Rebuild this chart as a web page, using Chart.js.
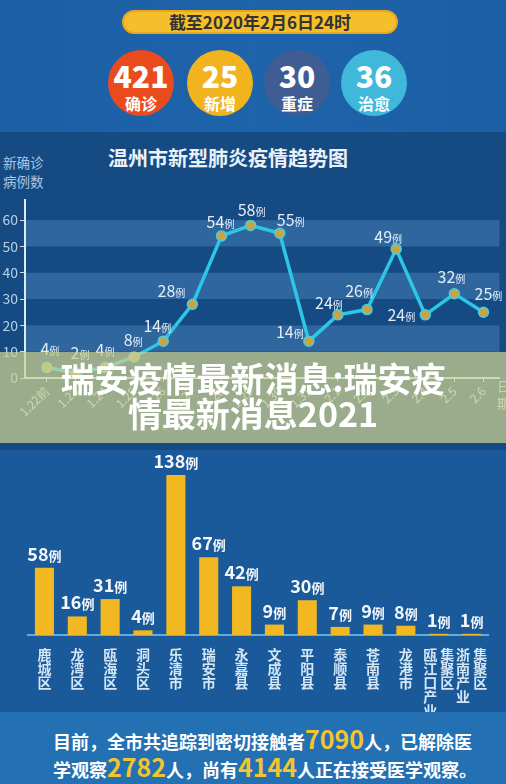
<!DOCTYPE html>
<html>
<head>
<meta charset="utf-8">
<script src="https://cdn.jsdelivr.net/npm/chart.js@4.4.0/dist/chart.umd.min.js"></script>
<style>
  body { margin: 0; width: 506px; height: 784px; overflow: hidden; font-family: "Noto Sans CJK SC", sans-serif; }
  #page { position: relative; width: 506px; height: 784px; background: #1a5a9a; overflow: hidden; }
  .abs { position: absolute; }
  #head { left: 0; top: 0; width: 506px; height: 132px; background: linear-gradient(90deg, #1c5ea4, #1e64ab 50%, #1c5ea4); }
  #trendBg { left: 0; top: 132px; width: 506px; height: 318px; background: #164a82; }
  #pill { left: 122px; top: 10px; width: 272px; height: 20px; border: 2px solid #e9a51c; border-radius: 12px; background: #f5be2b;
          color: #333; font-weight: bold; font-size: 17px; line-height: 20px; text-align: center; }
  .dot { width: 66px; height: 66px; border-radius: 50%; top: 50px; color: #fff; text-align: center; font-weight: bold; }
  .dot b { display: block; font-size: 30px; line-height: 30px; margin-top: 10px; }
  .dot span { display: block; font-size: 16px; line-height: 18px; margin-top: 4px; }
  #title { left: 88px; top: 146px; width: 280px; text-align: center; color: #e9f1f9; font-weight: bold; font-size: 20px; line-height: 24px; }
  #ytitle { left: 3px; top: 153px; color: #a9c6e2; font-size: 13.5px; line-height: 19px; }
  #xtitle { left: 497px; top: 377px; color: #cfe0ee; font-size: 13px; line-height: 17px; }
  #mask { left: 0; top: 352px; width: 506px; height: 91px; background: rgba(206,211,145,0.72); color: #fff; font-weight: bold;
          font-size: 34px; line-height: 35px; text-align: center; padding-top: 8px; box-sizing: border-box; }
  #foot { left: 0; top: 712px; width: 506px; height: 72px; background: #2371b3; color: #fff; font-weight: bold; font-size: 18px; }
  #foot div { position: absolute; left: 53px; white-space: nowrap; }
  #foot em { font-style: normal; color: #f4c430; font-size: 25px; }
</style>
</head>
<body>
<div id="page">
  <div class="abs" id="head"></div>
  <div class="abs" id="trendBg"></div>
  <div class="abs" id="pill">截至2020年2月6日24时</div>
  <div class="abs dot" style="left:108px;background:#e94b1f"><b>421</b><span>确诊</span></div>
  <div class="abs dot" style="left:187px;background:#f2b41e"><b>25</b><span>新增</span></div>
  <div class="abs dot" style="left:264px;background:#3f5d92"><b>30</b><span>重症</span></div>
  <div class="abs dot" style="left:341px;background:#3fb8da"><b>36</b><span>治愈</span></div>
  <div class="abs" id="title">温州市新型肺炎疫情趋势图</div>
  <div class="abs" id="ytitle">新确诊<br>病例数</div>
  <canvas class="abs" id="trend" width="506" height="230" style="left:0;top:190px"></canvas>
  <div class="abs" id="xtitle">日<br>期</div>
  <canvas class="abs" id="bars" width="506" height="262" style="left:0;top:450px"></canvas>
  <div class="abs" id="mask">瑞安疫情最新消息:瑞安疫<br>情最新消息2021</div>
  <div class="abs" id="foot">
    <div style="top:8px">目前，全市共追踪到密切接触者<em>7090</em>人，已解除医</div>
    <div style="top:36px">学观察<em>2782</em>人，尚有<em>4144</em>人正在接受医学观察。</div>
  </div>
</div>
<script>
const dayLabels = ['1.22前', '1.23', '1.24', '1.25', '1.26', '1.27', '1.28', '1.29', '1.30', '1.31', '2.1', '2.2', '2.3', '2.4', '2.5', '2.6'];
const newCases = [4, 2, 4, 8, 14, 28, 54, 58, 55, 14, 24, 26, 49, 24, 32, 25];
const yTicks = [0, 10, 20, 30, 40, 50, 60];

const districtLabels = [
  ['鹿', '城', '区'], ['龙', '湾', '区'], ['瓯', '海', '区'], ['洞', '头', '区'],
  ['乐', '清', '市'], ['瑞', '安', '市'], ['永', '嘉', '县'], ['文', '成', '县'],
  ['平', '阳', '县'], ['泰', '顺', '县'], ['苍', '南', '县'], ['龙', '港', '市'],
  ['瓯 集', '江 聚', '口 区', '产 　', '业 　'], ['浙 集', '南 聚', '产 区', '业 　']
];
const districtCases = [58, 16, 31, 4, 138, 67, 42, 9, 30, 7, 9, 8, 1, 1];

const FONT = '"Noto Sans CJK SC", sans-serif';

// light stripes behind the trend line
const bands = {
  id: 'bands',
  beforeDraw(chart, args, opts) {
    const { ctx, chartArea: a, scales: { y } } = chart;
    ctx.save();
    ctx.fillStyle = opts.color;
    opts.ranges.forEach(([lo, hi]) => {
      const t = y.getPixelForValue(hi), b = y.getPixelForValue(lo);
      ctx.fillRect(a.left, t, a.right - a.left, b - t);
    });
    ctx.restore();
  }
};

// "N例" labels: number big, 例 small
function drawCount(ctx, cx, baseY, num, big, small, bold, color) {
  const w = bold ? 'bold ' : '';
  ctx.font = w + big + 'px ' + FONT;
  const w1 = ctx.measureText(num).width;
  ctx.font = w + small + 'px ' + FONT;
  const w2 = ctx.measureText('例').width;
  const x0 = cx - (w1 + w2) / 2;
  ctx.fillStyle = color;
  ctx.textAlign = 'left';
  ctx.textBaseline = 'alphabetic';
  ctx.font = w + big + 'px ' + FONT;
  ctx.fillText(num, x0, baseY);
  ctx.font = w + small + 'px ' + FONT;
  ctx.fillText('例', x0 + w1, baseY);
}

const pointLabels = {
  id: 'pointLabels',
  afterDatasetsDraw(chart, args, opts) {
    const { ctx } = chart;
    const meta = chart.getDatasetMeta(0);
    ctx.save();
    meta.data.forEach((p, i) => {
      const [dx, dy] = opts.offsets[i] || [0, -16];
      drawCount(ctx, p.x + dx, p.y + dy + 6, String(newCases[i]), 16, 10, false, '#e3eef8');
    });
    ctx.restore();
  }
};

const barLabels = {
  id: 'barLabels',
  afterDatasetsDraw(chart) {
    const { ctx } = chart;
    const meta = chart.getDatasetMeta(0);
    ctx.save();
    meta.data.forEach((b, i) => {
      drawCount(ctx, b.x, b.y - 7, String(districtCases[i]), 18, 13, true, '#f4f8fc');
    });
    ctx.restore();
  }
};

new Chart(document.getElementById('trend'), {
  type: 'line',
  data: {
    datasets: [{
      data: newCases.map((v, i) => ({ x: i, y: v })),
      borderColor: '#2cc6e8',
      borderWidth: 3.5,
      tension: 0,
      pointRadius: 5,
      pointBackgroundColor: '#c9a443',
      pointBorderColor: '#45cde6',
      pointBorderWidth: 1.5
    }]
  },
  options: {
    responsive: false,
    animation: false,
    layout: { padding: { top: 7, right: 4, left: 0, bottom: 0 } },
    plugins: {
      legend: { display: false },
      tooltip: { enabled: false },
      bands: { color: 'rgba(92,150,204,0.38)', ranges: [[10, 20], [30, 40], [50, 60]] },
      pointLabels: {
        offsets: [[3, -18], [4, -20], [0, -17], [-1, -17], [-6, -15], [-21, -13], [-1, -14], [1, -15],
                  [11, -13], [-19, -9], [-9, -12], [-8, -19], [-8, -12], [-24, 0], [-3, -17], [5, -18]]
      }
    },
    scales: {
      x: {
        type: 'linear',
        min: -0.75,
        max: 15.55,
        afterBuildTicks: s => { s.ticks = dayLabels.map((_, i) => ({ value: i })); },
        afterFit: s => { s.height = 42; },
        ticks: {
          callback: v => dayLabels[v],
          color: '#d4e4f0',
          font: { size: 12, family: FONT },
          maxRotation: 45,
          minRotation: 45,
          autoSkip: false,
          padding: 2
        },
        grid: { drawOnChartArea: false, tickLength: 4, color: '#d8ecf4' },
        border: { color: '#d8ecf4', width: 2 }
      },
      y: {
        min: 0,
        max: 67.5,
        afterBuildTicks: s => { s.ticks = yTicks.map(v => ({ value: v })); },
        afterFit: s => { s.width = 25; },
        ticks: { color: '#b8d0e6', font: { size: 14, family: FONT }, padding: 2 },
        grid: { drawOnChartArea: false, tickLength: 5, color: '#c8e0ee' },
        border: { color: '#d8ecf4', width: 2 }
      }
    }
  },
  plugins: [bands, pointLabels]
});

new Chart(document.getElementById('bars'), {
  type: 'bar',
  data: {
    labels: districtLabels,
    datasets: [{
      data: districtCases,
      backgroundColor: '#f2b822',
      categoryPercentage: 1,
      barPercentage: 0.58
    }]
  },
  options: {
    responsive: false,
    animation: false,
    layout: { padding: { top: 5, left: 28, right: 18, bottom: 0 } },
    plugins: { legend: { display: false }, tooltip: { enabled: false } },
    scales: {
      x: {
        afterFit: s => { s.height = 77; },
        grid: { display: false },
        border: { color: '#5aaee6', width: 2 },
        ticks: {
          color: '#d4e6f6',
          font: { size: 14, weight: 'bold', lineHeight: 1, family: FONT },
          padding: 5,
          maxRotation: 0,
          autoSkip: false
        }
      },
      y: { display: false, min: 0, max: 155.3 }
    }
  },
  plugins: [barLabels]
});
</script>
</body>
</html>
